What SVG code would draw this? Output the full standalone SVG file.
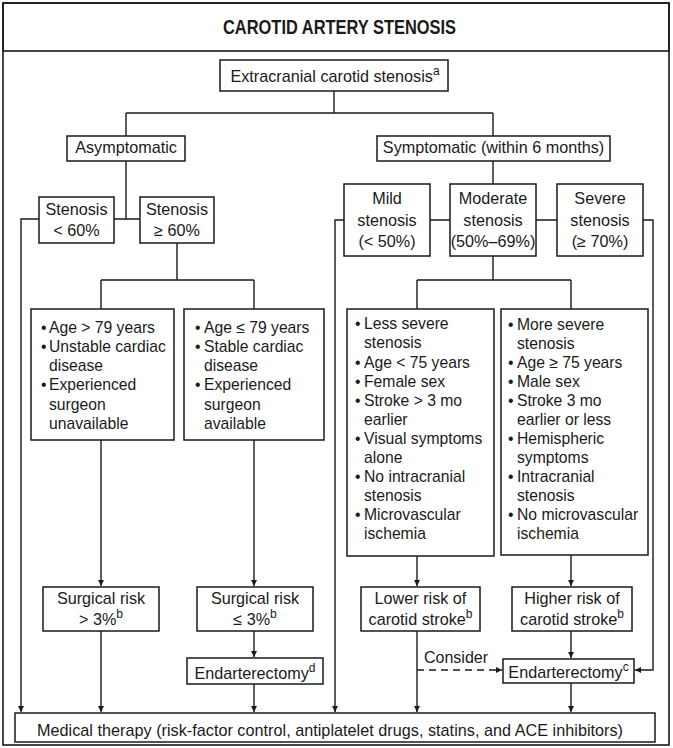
<svg xmlns="http://www.w3.org/2000/svg" width="673" height="748" viewBox="0 0 673 748">
  <defs>
    <marker id="arrow" viewBox="0 0 10 10" refX="10" refY="5" markerWidth="6" markerHeight="9" markerUnits="userSpaceOnUse" orient="auto">
      <path d="M0,0 L10,5 L0,10 z" fill="#1a1a1a"/>
    </marker>
    <style>
      .box { fill: #ffffff; stroke: #1a1a1a; stroke-width: 1.5; }
      .frame { fill: none; stroke: #1a1a1a; stroke-width: 1.6; }
      .line { fill: none; stroke: #1a1a1a; stroke-width: 1.4; }
      .arr { fill: none; stroke: #1a1a1a; stroke-width: 1.4; marker-end: url(#arrow); }
      .dash { stroke-dasharray: 7 5; }
      text { font-family: "Liberation Sans", Arial, Helvetica, sans-serif; font-size: 15.7px; fill: #1a1a1a; }
      .c { text-anchor: middle; font-size: 16.2px; }
      .title { font-weight: bold; font-size: 19.5px; }
      .sup { font-size: 12px; }
    </style>
  </defs>

  <!-- outer frame and header band -->
  <rect x="3" y="3" width="666" height="742" fill="#ffffff" class="frame"/>
  <rect x="3" y="3" width="666" height="48" fill="#e6e6e6" class="frame"/>
  <text class="title c" x="339.5" y="34" textLength="233" lengthAdjust="spacingAndGlyphs">CAROTID ARTERY STENOSIS</text>

  <!-- connectors -->
  <g id="connectors">
    <path class="line" d="M334,91 V113 M126,113 H493 M126,113 V136 M493,113 V136"/>
    <path class="line" d="M126,161 V219 M114,219 H140"/>
    <path class="arr" d="M39,219 H21 V712"/>
    <path class="line" d="M177,243 V280 M101,280 H254 M101,280 V309 M254,280 V309"/>
    <path class="arr" d="M101,440 V586"/>
    <path class="arr" d="M254,440 V586"/>
    <path class="arr" d="M101,631 V712"/>
    <path class="arr" d="M254,631 V657"/>
    <path class="arr" d="M254,684 V712"/>
    <path class="line" d="M493,161 V184 M430,220 H450 M536,220 H557"/>
    <path class="arr" d="M344,220 H335 V712"/>
    <path class="arr" d="M643,220 H653 V670 H635"/>
    <path class="line" d="M493,256 V280 M417,280 H571 M417,280 V309 M571,280 V309"/>
    <path class="arr" d="M417,556 V586"/>
    <path class="arr" d="M571,555 V586"/>
    <path class="arr" d="M417,631 V712"/>
    <path class="arr dash" d="M417,670 H502"/>
    <path class="arr" d="M571,631 V658"/>
    <path class="arr" d="M571,683 V712"/>
    <text x="424" y="663" style="font-size:16px">Consider</text>
  </g>

  <g id="root">
    <rect class="box" x="220" y="60" width="228" height="31"/>
    <text class="c" x="335" y="82">Extracranial carotid stenosis<tspan class="sup" dy="-7">a</tspan></text>
  </g>

  <g id="asymptomatic">
    <rect class="box" x="67" y="136" width="118" height="25"/>
    <text class="c" x="126" y="153">Asymptomatic</text>
  </g>

  <g id="symptomatic">
    <rect class="box" x="377" y="136" width="233" height="25"/>
    <text class="c" x="493.5" y="153">Symptomatic (within 6 months)</text>
  </g>

  <g id="stenosis-lt60">
    <rect class="box" x="39" y="197" width="75" height="46"/>
    <text class="c" x="76.5" y="215">Stenosis</text>
    <text class="c" x="76.5" y="236">&lt; 60%</text>
  </g>

  <g id="stenosis-ge60">
    <rect class="box" x="140" y="197" width="74" height="46"/>
    <text class="c" x="177" y="215">Stenosis</text>
    <text class="c" x="177" y="236">≥ 60%</text>
  </g>

  <g id="mild">
    <rect class="box" x="344" y="184" width="86" height="72"/>
    <text class="c" x="387" y="204">Mild</text>
    <text class="c" x="387" y="226">stenosis</text>
    <text class="c" x="387" y="247">(&lt; 50%)</text>
  </g>

  <g id="moderate">
    <rect class="box" x="450" y="184" width="86" height="72"/>
    <text class="c" x="493" y="204">Moderate</text>
    <text class="c" x="493" y="226">stenosis</text>
    <text class="c" x="493" y="247">(50%–69%)</text>
  </g>

  <g id="severe">
    <rect class="box" x="557" y="184" width="86" height="72"/>
    <text class="c" x="600" y="204">Severe</text>
    <text class="c" x="600" y="226">stenosis</text>
    <text class="c" x="600" y="247">(≥ 70%)</text>
  </g>

  <g id="asym-high-risk">
    <rect class="box" x="31" y="309" width="143" height="131"/>
    <text x="41" y="333">•</text><text x="49" y="333">Age &gt; 79 years</text>
    <text x="41" y="352">•</text><text x="49" y="352">Unstable cardiac</text>
    <text x="49" y="371">disease</text>
    <text x="41" y="390">•</text><text x="49" y="390">Experienced</text>
    <text x="49" y="410">surgeon</text>
    <text x="49" y="429">unavailable</text>
  </g>

  <g id="asym-low-risk">
    <rect class="box" x="184" y="309" width="140" height="131"/>
    <text x="195" y="333">•</text><text x="204" y="333">Age ≤ 79 years</text>
    <text x="195" y="352">•</text><text x="204" y="352">Stable cardiac</text>
    <text x="204" y="371">disease</text>
    <text x="195" y="390">•</text><text x="204" y="390">Experienced</text>
    <text x="204" y="410">surgeon</text>
    <text x="204" y="429">available</text>
  </g>

  <g id="sym-lower-features">
    <rect class="box" x="347" y="309" width="147" height="247"/>
    <text x="355" y="329">•</text><text x="364" y="329">Less severe</text>
    <text x="364" y="348">stenosis</text>
    <text x="355" y="368">•</text><text x="364" y="368">Age &lt; 75 years</text>
    <text x="355" y="387">•</text><text x="364" y="387">Female sex</text>
    <text x="355" y="406">•</text><text x="364" y="406">Stroke &gt; 3 mo</text>
    <text x="364" y="425">earlier</text>
    <text x="355" y="444">•</text><text x="364" y="444">Visual symptoms</text>
    <text x="364" y="463">alone</text>
    <text x="355" y="482">•</text><text x="364" y="482">No intracranial</text>
    <text x="364" y="501">stenosis</text>
    <text x="355" y="520">•</text><text x="364" y="520">Microvascular</text>
    <text x="364" y="539">ischemia</text>
  </g>

  <g id="sym-higher-features">
    <rect class="box" x="501" y="309" width="147" height="246"/>
    <text x="508" y="330">•</text><text x="517" y="330">More severe</text>
    <text x="517" y="349">stenosis</text>
    <text x="508" y="368">•</text><text x="517" y="368">Age ≥ 75 years</text>
    <text x="508" y="387">•</text><text x="517" y="387">Male sex</text>
    <text x="508" y="406">•</text><text x="517" y="406">Stroke 3 mo</text>
    <text x="517" y="425">earlier or less</text>
    <text x="508" y="444">•</text><text x="517" y="444">Hemispheric</text>
    <text x="517" y="463">symptoms</text>
    <text x="508" y="482">•</text><text x="517" y="482">Intracranial</text>
    <text x="517" y="501">stenosis</text>
    <text x="508" y="520">•</text><text x="517" y="520">No microvascular</text>
    <text x="517" y="539">ischemia</text>
  </g>

  <g id="surgical-risk-high">
    <rect class="box" x="43" y="587" width="116" height="44"/>
    <text class="c" x="101" y="604">Surgical risk</text>
    <text class="c" x="101" y="625">&gt; 3%<tspan class="sup" dy="-7">b</tspan></text>
  </g>

  <g id="surgical-risk-low">
    <rect class="box" x="197" y="587" width="116" height="44"/>
    <text class="c" x="255" y="604">Surgical risk</text>
    <text class="c" x="255" y="625">≤ 3%<tspan class="sup" dy="-7">b</tspan></text>
  </g>

  <g id="lower-risk">
    <rect class="box" x="361" y="587" width="119" height="44"/>
    <text class="c" x="420.5" y="604">Lower risk of</text>
    <text class="c" x="420.5" y="625">carotid stroke<tspan class="sup" dy="-7">b</tspan></text>
  </g>

  <g id="higher-risk">
    <rect class="box" x="512" y="587" width="120" height="44"/>
    <text class="c" x="572" y="604">Higher risk of</text>
    <text class="c" x="572" y="625">carotid stroke<tspan class="sup" dy="-7">b</tspan></text>
  </g>

  <g id="endarterectomy-d">
    <rect class="box" x="187" y="658" width="136" height="26"/>
    <text class="c" x="255" y="679">Endarterectomy<tspan class="sup" dy="-7">d</tspan></text>
  </g>

  <g id="endarterectomy-c">
    <rect class="box" x="503" y="659" width="131" height="24"/>
    <text class="c" x="568.5" y="678">Endarterectomy<tspan class="sup" dy="-7">c</tspan></text>
  </g>

  <g id="medical-therapy">
    <rect class="box" x="15" y="713" width="640" height="29"/>
    <text class="c" x="330" y="736" textLength="586" lengthAdjust="spacing">Medical therapy (risk-factor control, antiplatelet drugs, statins, and ACE inhibitors)</text>
  </g>
</svg>
